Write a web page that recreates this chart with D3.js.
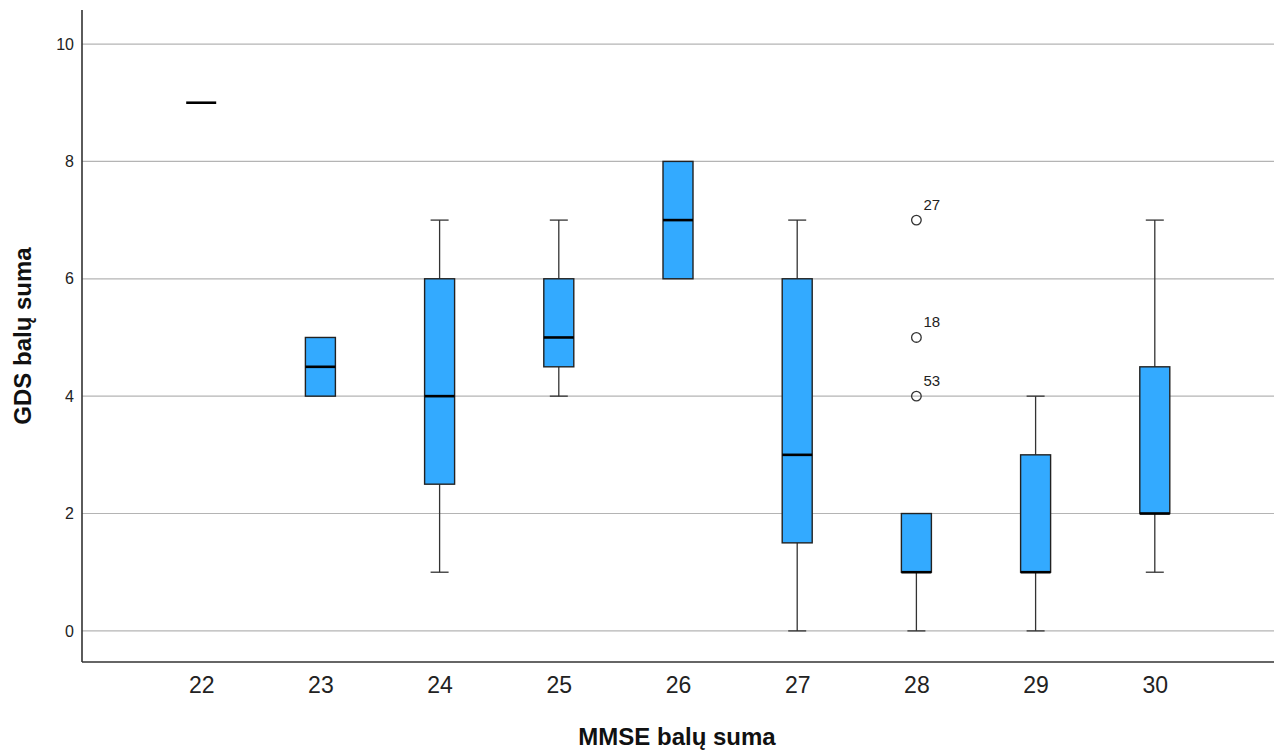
<!DOCTYPE html>
<html>
<head>
<meta charset="utf-8">
<script src="https://cdn.jsdelivr.net/npm/d3@7"></script>
<style>
  body { margin: 0; background: #fff; }
  text { font-family: Arial, "Liberation Sans", sans-serif; }
</style>
</head>
<body>
<svg id="chart" width="1283" height="753"></svg>
<script>
// MMSE score groups
const categories = ["22", "23", "24", "25", "26", "27", "28", "29", "30"];
// box stats per group
const whiskerLow  = [9, 4,   1,   4,   6, 0,   0, 0, 1];
const q1          = [9, 4,   2.5, 4.5, 6, 1.5, 1, 1, 2];
const medians     = [9, 4.5, 4,   5,   7, 3,   1, 1, 2];
const q3          = [9, 5,   6,   6,   8, 6,   2, 3, 4.5];
const whiskerHigh = [9, 5,   7,   7,   8, 7,   2, 4, 7];
// outliers: [group, value, case label]
const outliers = [["28", 7, "27"], ["28", 5, "18"], ["28", 4, "53"]];
const yTicks = [0, 2, 4, 6, 8, 10];

const svg = d3.select("#chart");
const margin = { top: 10, right: 9, bottom: 91, left: 82 };
const W = 1283 - margin.left - margin.right;
const H = 753 - margin.top - margin.bottom;
const g = svg.append("g").attr("transform", `translate(${margin.left},${margin.top})`);

const x = d3.scalePoint().domain(categories).range([0, W]).padding(1);
const y = d3.scaleLinear().domain([-0.53, 10.58]).range([H, 0]);

// gridlines
g.append("g")
  .selectAll("line")
  .data(yTicks)
  .join("line")
  .attr("x1", 0).attr("x2", W)
  .attr("y1", d => y(d)).attr("y2", d => y(d))
  .attr("stroke", "#b4b4b4").attr("stroke-width", 1.2);

// y axis
const yAxis = g.append("g")
  .call(d3.axisLeft(y).tickValues(yTicks).tickSize(0).tickPadding(8));
yAxis.select(".domain").remove();
yAxis.selectAll("text").attr("font-size", 16).attr("fill", "#222");

// x axis
const xAxis = g.append("g")
  .attr("transform", `translate(0,${H})`)
  .call(d3.axisBottom(x).tickSize(0).tickPadding(15));
xAxis.select(".domain").remove();
xAxis.selectAll("text").attr("font-size", 23).attr("fill", "#222");

// axis lines
g.append("line").attr("x1", 0).attr("x2", 0).attr("y1", 0).attr("y2", H)
  .attr("stroke", "#333").attr("stroke-width", 1.6);
g.append("line").attr("x1", 0).attr("x2", W).attr("y1", H).attr("y2", H)
  .attr("stroke", "#333").attr("stroke-width", 1.6);

const boxW = 30, capW = 18;
const rows = categories.map((c, i) => ({
  c, lo: whiskerLow[i], q1: q1[i], med: medians[i], q3: q3[i], hi: whiskerHigh[i]
}));

const boxes = g.append("g").selectAll("g").data(rows).join("g")
  .attr("transform", d => `translate(${x(d.c)},0)`);

// whiskers
boxes.filter(d => d.lo < d.q1).append("line")
  .attr("y1", d => y(d.lo)).attr("y2", d => y(d.q1))
  .attr("stroke", "#333").attr("stroke-width", 1.3);
boxes.filter(d => d.lo < d.q1).append("line")
  .attr("x1", -capW / 2).attr("x2", capW / 2)
  .attr("y1", d => y(d.lo)).attr("y2", d => y(d.lo))
  .attr("stroke", "#333").attr("stroke-width", 1.3);
boxes.filter(d => d.hi > d.q3).append("line")
  .attr("y1", d => y(d.hi)).attr("y2", d => y(d.q3))
  .attr("stroke", "#333").attr("stroke-width", 1.3);
boxes.filter(d => d.hi > d.q3).append("line")
  .attr("x1", -capW / 2).attr("x2", capW / 2)
  .attr("y1", d => y(d.hi)).attr("y2", d => y(d.hi))
  .attr("stroke", "#333").attr("stroke-width", 1.3);

// box
boxes.filter(d => d.q3 > d.q1).append("rect")
  .attr("x", -boxW / 2).attr("width", boxW)
  .attr("y", d => y(d.q3)).attr("height", d => y(d.q1) - y(d.q3))
  .attr("fill", "#33aaff").attr("stroke", "#222").attr("stroke-width", 1.4);

// median
boxes.append("line")
  .attr("x1", -boxW / 2).attr("x2", boxW / 2)
  .attr("y1", d => y(d.med)).attr("y2", d => y(d.med))
  .attr("stroke", "#000").attr("stroke-width", 2.6);

// outliers
const out = g.append("g").selectAll("g").data(outliers).join("g")
  .attr("transform", d => `translate(${x(d[0])},${y(d[1])})`);
out.append("circle").attr("r", 4.8)
  .attr("fill", "none").attr("stroke", "#333").attr("stroke-width", 1.3);
out.append("text").attr("x", 7).attr("y", -10)
  .attr("font-size", 15).attr("fill", "#222").text(d => d[2]);

// titles
svg.append("text")
  .attr("x", margin.left + W / 2 - 1).attr("y", 745)
  .attr("text-anchor", "middle").attr("font-size", 24).attr("font-weight", "bold")
  .attr("fill", "#111").text("MMSE balų suma");
svg.append("text")
  .attr("transform", `translate(31,${margin.top + H / 2}) rotate(-90)`)
  .attr("text-anchor", "middle").attr("font-size", 24).attr("font-weight", "bold")
  .attr("fill", "#111").text("GDS balų suma");
</script>
</body>
</html>
